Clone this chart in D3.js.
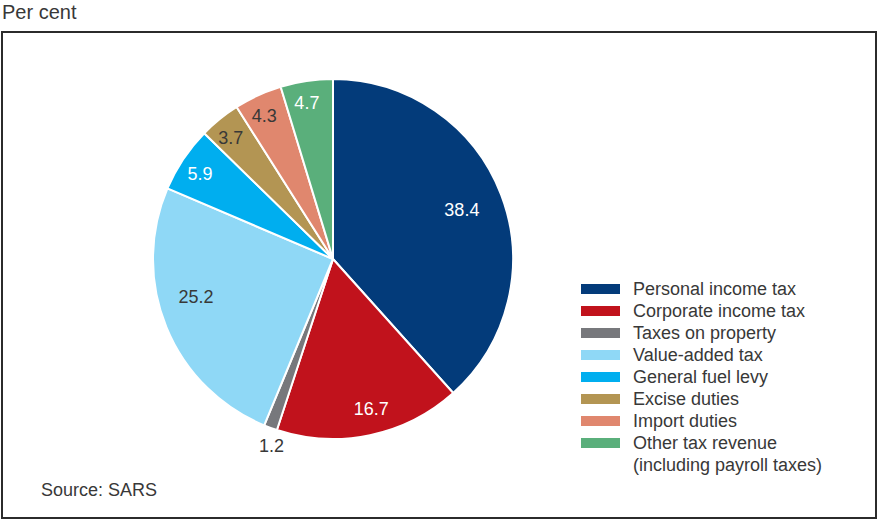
<!DOCTYPE html>
<html>
<head>
<meta charset="utf-8">
<script src="https://cdn.jsdelivr.net/npm/d3@7/dist/d3.min.js"></script>
<style>
  html, body { margin: 0; padding: 0; background: #fff; }
  svg { display: block; font-family: "Liberation Sans", Arial, Helvetica, sans-serif; }
</style>
</head>
<body>
<svg id="chart" width="878" height="520"></svg>
<script>
// Composition of tax revenue (per cent)
const categories = [
  "Personal income tax",
  "Corporate income tax",
  "Taxes on property",
  "Value-added tax",
  "General fuel levy",
  "Excise duties",
  "Import duties",
  "Other tax revenue"
];
const shares = [38.4, 16.7, 1.2, 25.2, 5.9, 3.7, 4.3, 4.7];
const colors = ["#033b7a", "#c1121c", "#77787c", "#8fd8f6", "#00aeef", "#b39553", "#e0876e", "#5aaf7b"];
const legendLabels = [
  ["Personal income tax"],
  ["Corporate income tax"],
  ["Taxes on property"],
  ["Value-added tax"],
  ["General fuel levy"],
  ["Excise duties"],
  ["Import duties"],
  ["Other tax revenue", "(including payroll taxes)"]
];
// label styling per slice: text colour, radial distance and angular nudge (degrees)
const labelColors = ["#ffffff", "#ffffff", "#383838", "#383838", "#ffffff", "#383838", "#383838", "#ffffff"];
const labelRadius = [138, 154, 196, 142, 158, 159, 159, 159];
const labelNudge = [0, -2.5, -2, 7, -1, -1, -1, -1];

const svg = d3.select("#chart");
const textColor = "#383838";

svg.append("text")
  .attr("x", 2).attr("y", 19)
  .attr("font-size", 20).attr("fill", textColor)
  .text("Per cent");

svg.append("rect")
  .attr("x", 2).attr("y", 32)
  .attr("width", 874).attr("height", 486)
  .attr("fill", "none").attr("stroke", "#2b2b2b").attr("stroke-width", 2);

const cx = 333, cy = 259, r = 180;
const data = categories.map((c, i) => ({ name: c, value: shares[i], i }));
const pie = d3.pie().value(d => d.value).sort(null);
const arcs = pie(data);
const arcGen = d3.arc().innerRadius(0).outerRadius(r);

const g = svg.append("g").attr("transform", `translate(${cx},${cy})`);
g.selectAll("path.slice")
  .data(arcs)
  .join("path")
  .attr("class", "slice")
  .attr("d", arcGen)
  .attr("fill", d => colors[d.data.i])
  .attr("stroke", "#ffffff")
  .attr("stroke-width", 2)
  .attr("stroke-linejoin", "round");

g.selectAll("text.val")
  .data(arcs)
  .join("text")
  .attr("class", "val")
  .attr("transform", d => {
    const lr = labelRadius[d.data.i];
    const a = (d.startAngle + d.endAngle) / 2 + labelNudge[d.data.i] * Math.PI / 180;
    return `translate(${lr * Math.sin(a)},${-lr * Math.cos(a)})`;
  })
  .attr("text-anchor", "middle")
  .attr("dy", "0.36em")
  .attr("font-size", 18)
  .attr("fill", d => labelColors[d.data.i])
  .text(d => d3.format(".1f")(d.data.value));

// legend
const lg = svg.append("g").attr("transform", "translate(581,284)");
const rowH = 22;
let row = 0;
legendLabels.forEach((lines, i) => {
  const y = row * rowH;
  lg.append("rect")
    .attr("x", 0).attr("y", y)
    .attr("width", 39).attr("height", 10)
    .attr("fill", colors[i]);
  lines.forEach((t, k) => {
    lg.append("text")
      .attr("x", 52).attr("y", y + 5 + k * rowH)
      .attr("dy", "0.36em")
      .attr("font-size", 18)
      .attr("fill", textColor)
      .text(t);
  });
  row += lines.length;
});

svg.append("text")
  .attr("x", 41).attr("y", 496)
  .attr("font-size", 18).attr("fill", textColor)
  .text("Source: SARS");
</script>
</body>
</html>
